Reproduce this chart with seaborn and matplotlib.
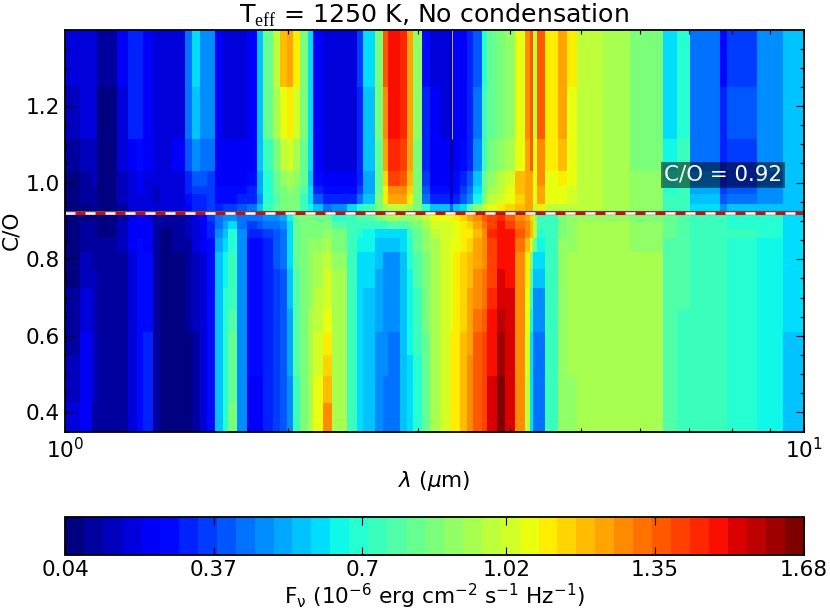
import matplotlib
matplotlib.use("Agg")
import matplotlib.pyplot as plt
import numpy as np
import pandas as pd
import seaborn as sns

plt.rcParams["mathtext.fontset"] = "custom"
plt.rcParams["mathtext.rm"] = "Liberation Serif"
plt.rcParams["mathtext.it"] = "DejaVu Sans:italic"
plt.rcParams["mathtext.bf"] = "DejaVu Sans:bold"
plt.rcParams["mathtext.default"] = "regular"

# left edge of each wavelength band (micron)
wavelength = [
    1.000, 1.048, 1.088, 1.105, 1.176, 1.217, 1.252, 1.276, 1.316, 1.345,
    1.396, 1.454, 1.486, 1.524, 1.558, 1.597, 1.637, 1.663, 1.710, 1.765,
    1.820, 1.855, 1.914, 1.956, 1.999, 2.037, 2.082, 2.135, 2.168, 2.236,
    2.301, 2.411, 2.487, 2.534, 2.631, 2.697, 2.740, 2.844, 2.907, 2.962,
    3.046, 3.123, 3.222, 3.324, 3.356, 3.430, 3.505, 3.571, 3.674, 3.732,
    3.850, 3.947, 4.072, 4.201, 4.267, 4.307, 4.361, 4.471, 4.656, 4.788,
    4.941, 5.358, 5.830, 6.460, 6.749, 7.029, 7.719, 7.889, 8.663, 9.396,
]

# flux per C/O level, 1e-6 erg cm-2 s-1 Hz-1
co_levels = [1.33, 1.17, 1.06, 1.00, 0.98, 0.96, 0.935, 0.905, 0.89, 0.87, 0.84,
             0.80, 0.75, 0.70, 0.64, 0.58, 0.52, 0.47, 0.38]

flux_133 = [
    .17, .20, .17, .09, .22, .32, .33, .25, .20, .20,
    .20, .45, .60, .50, .50, .25, .20, .20, .20, .25,
    .55, .80, 1.0, 1.2, 1.25, 1.1, .85, .60, .22, .18,
    .18, .18, .35, .60, .85, 1.35, 1.48, 1.45, 1.25, .90,
    .28, .20, .20, .10, .25, .25, .30, .38, .70, .80,
    .85, .90, 1.05, 1.3, 1.38, 1.0, 1.35, 1.12, 1.25, 1.1,
    1.0, .95, .85, .60, .68, .42, .26, .36, .48, .58,
]
flux_117 = [
    .13, .18, .17, .08, .20, .30, .31, .25, .20, .20,
    .20, .42, .55, .48, .47, .25, .20, .20, .20, .25,
    .55, .80, .95, 1.08, 1.12, 1.02, .85, .60, .22, .18,
    .18, .18, .33, .58, .85, 1.3, 1.47, 1.45, 1.25, .90,
    .30, .22, .20, .10, .25, .25, .30, .42, .72, .82,
    .88, .92, 1.05, 1.28, 1.38, 1.0, 1.35, 1.1, 1.22, 1.08,
    1.0, .95, .86, .62, .70, .45, .30, .38, .50, .58,
]
flux_106 = [
    .10, .15, .15, .08, .18, .25, .27, .22, .19, .20,
    .21, .38, .48, .45, .42, .25, .22, .22, .22, .25,
    .55, .75, .88, .98, 1.02, .95, .82, .60, .25, .20,
    .18, .20, .33, .55, .82, 1.22, 1.45, 1.42, 1.22, .85,
    .32, .25, .22, .12, .25, .28, .32, .50, .75, .85,
    .90, .95, 1.05, 1.25, 1.35, 1.05, 1.3, 1.1, 1.18, 1.08,
    1.0, .95, .88, .65, .72, .45, .30, .36, .48, .58,
]
flux_100 = [
    .06, .12, .13, .08, .15, .20, .22, .20, .17, .19,
    .20, .33, .40, .38, .37, .25, .23, .24, .25, .28,
    .52, .70, .82, .92, .95, .90, .80, .58, .27, .22,
    .22, .25, .33, .52, .80, 1.15, 1.4, 1.38, 1.18, .85,
    .35, .25, .25, .15, .27, .30, .38, .55, .80, .92,
    .98, 1.03, 1.2, 1.25, 1.25, 1.08, 1.28, 1.08, 1.12, 1.05,
    1.0, .95, .90, .70, .72, .50, .33, .35, .45, .58,
]
flux_098 = [
    .055, .11, .115, .075, .14, .19, .21, .19, .165, .185,
    .20, .30, .36, .355, .36, .265, .255, .255, .275, .30,
    .51, .69, .80, .88, .91, .87, .78, .59, .32, .26,
    .26, .29, .37, .53, .82, 1.12, 1.3, 1.3, 1.14, .85,
    .40, .27, .27, .16, .29, .34, .44, .60, .82, .95,
    1.0, 1.05, 1.18, 1.25, 1.25, 1.06, 1.25, 1.06, 1.08, 1.03,
    .99, .95, .90, .71, .72, .52, .35, .38, .47, .58,
]
flux_096 = [
    .05, .10, .10, .07, .13, .18, .20, .18, .16, .18,
    .20, .28, .33, .33, .35, .28, .28, .27, .30, .33,
    .50, .68, .78, .85, .88, .85, .75, .60, .38, .30,
    .30, .33, .42, .55, .85, 1.1, 1.22, 1.22, 1.1, .85,
    .45, .30, .30, .18, .32, .38, .50, .65, .85, .98,
    1.02, 1.08, 1.15, 1.25, 1.25, 1.05, 1.22, 1.05, 1.05, 1.02,
    .98, .95, .90, .72, .72, .55, .38, .42, .50, .58,
]
flux_0935 = [
    .05, .08, .09, .07, .12, .17, .19, .17, .17, .20,
    .20, .25, .30, .32, .35, .32, .35, .35, .38, .42,
    .55, .72, .82, .85, .85, .85, .75, .65, .55, .45,
    .50, .60, .70, .75, .85, .95, 1.0, 1.0, .95, .85,
    .70, .55, .55, .40, .55, .62, .78, .90, 1.0, 1.05,
    1.1, 1.15, 1.2, 1.25, 1.25, 1.0, 1.1, 1.0, 1.0, 1.0,
    .98, .95, .90, .75, .75, .62, .48, .55, .55, .58,
]
flux_0905 = [
    .05, .07, .08, .07, .12, .20, .22, .20, .10, .10,
    .12, .16, .20, .25, .35, .45, .48, .48, .42, .42,
    .45, .50, .50, .52, .65, .80, .85, .85, .82, .80,
    .70, .75, .78, .78, .85, .90, .95, .92, .92, .95,
    1.0, 1.05, 1.05, 1.05, 1.1, 1.15, 1.22, 1.3, 1.35, 1.4,
    1.45, 1.35, 1.28, 1.25, 1.15, .95, .75, .75, .88, .90,
    .92, .92, .88, .80, .78, .75, .72, .70, .68, .62,
]
flux_089 = [
    .055, .085, .09, .075, .13, .21, .235, .21, .10, .09,
    .11, .15, .20, .25, .32, .46, .52, .60, .46, .36,
    .38, .42, .44, .47, .62, .81, .86, .86, .85, .85,
    .78, .74, .73, .72, .74, .75, .78, .77, .82, .88,
    .96, 1.02, 1.04, 1.05, 1.08, 1.12, 1.17, 1.24, 1.32, 1.42,
    1.48, 1.42, 1.32, 1.26, 1.18, .98, .72, .74, .88, .91,
    .94, .94, .90, .80, .78, .75, .72, .71, .68, .62,
]
flux_087 = [
    .06, .10, .10, .08, .14, .22, .25, .22, .10, .08,
    .10, .14, .20, .25, .30, .48, .58, .70, .50, .30,
    .30, .34, .38, .42, .60, .82, .88, .88, .88, .90,
    .85, .72, .68, .66, .62, .60, .60, .62, .72, .82,
    .92, .98, 1.02, 1.04, 1.05, 1.1, 1.12, 1.18, 1.3, 1.45,
    1.5, 1.5, 1.35, 1.28, 1.2, 1.0, .70, .72, .88, .92,
    .95, .95, .92, .80, .78, .75, .72, .72, .68, .62,
]
flux_084 = [
    .065, .12, .11, .085, .13, .21, .26, .25, .105, .08,
    .09, .12, .17, .22, .29, .52, .62, .71, .50, .29,
    .29, .33, .38, .42, .60, .81, .88, .90, .92, .95,
    .88, .72, .65, .63, .58, .55, .55, .60, .70, .80,
    .90, .96, 1.02, 1.06, 1.08, 1.12, 1.16, 1.22, 1.3, 1.42,
    1.5, 1.5, 1.32, 1.2, 1.02, .80, .66, .72, .89, .92,
    .95, .95, .92, .79, .77, .74, .72, .71, .67, .61,
]
flux_080 = [
    .07, .14, .12, .09, .12, .20, .27, .28, .11, .08,
    .08, .10, .14, .20, .28, .55, .66, .72, .50, .28,
    .28, .32, .38, .42, .60, .80, .88, .92, .95, 1.0,
    .92, .72, .62, .60, .55, .50, .50, .58, .68, .78,
    .88, .95, 1.02, 1.08, 1.1, 1.15, 1.2, 1.25, 1.3, 1.4,
    1.5, 1.5, 1.3, 1.12, .85, .62, .62, .72, .90, .93,
    .95, .95, .93, .78, .76, .74, .72, .70, .66, .60,
]
flux_075 = [
    .08, .16, .125, .09, .115, .20, .265, .28, .11, .075,
    .07, .095, .135, .19, .28, .55, .67, .74, .50, .275,
    .275, .32, .37, .41, .57, .79, .88, .92, .96, 1.01,
    .93, .72, .61, .59, .53, .49, .49, .58, .66, .76,
    .86, .95, 1.02, 1.08, 1.1, 1.15, 1.21, 1.26, 1.31, 1.42,
    1.52, 1.51, 1.3, 1.1, .78, .55, .55, .72, .90, .93,
    .95, .95, .94, .78, .76, .73, .72, .70, .66, .60,
]
flux_070 = [
    .09, .18, .13, .09, .11, .20, .26, .28, .11, .07,
    .06, .09, .13, .18, .28, .55, .68, .75, .50, .27,
    .27, .32, .36, .40, .55, .78, .88, .92, .98, 1.02,
    .95, .72, .60, .58, .52, .48, .48, .58, .65, .75,
    .85, .95, 1.02, 1.08, 1.1, 1.15, 1.22, 1.28, 1.32, 1.45,
    1.55, 1.52, 1.3, 1.08, .72, .50, .50, .72, .90, .93,
    .95, .95, .95, .78, .76, .72, .72, .70, .66, .60,
]
flux_064 = [
    .10, .20, .135, .09, .11, .20, .265, .29, .115, .065,
    .055, .085, .125, .18, .28, .55, .68, .78, .50, .265,
    .265, .31, .355, .40, .53, .77, .88, .93, 1.0, 1.06,
    .95, .72, .60, .57, .51, .475, .47, .58, .64, .73,
    .84, .95, 1.02, 1.09, 1.11, 1.16, 1.23, 1.32, 1.36, 1.48,
    1.58, 1.53, 1.3, 1.05, .66, .47, .47, .72, .90, .93,
    .95, .95, .95, .77, .75, .72, .72, .69, .66, .59,
]
flux_058 = [
    .12, .22, .14, .09, .11, .20, .27, .30, .12, .06,
    .05, .08, .12, .18, .28, .55, .68, .80, .50, .26,
    .26, .30, .35, .40, .52, .76, .88, .95, 1.02, 1.1,
    .95, .72, .60, .56, .50, .47, .46, .58, .63, .72,
    .83, .95, 1.02, 1.1, 1.12, 1.18, 1.25, 1.35, 1.4, 1.5,
    1.6, 1.55, 1.3, 1.02, .62, .45, .44, .72, .90, .93,
    .95, .95, .95, .76, .75, .72, .72, .68, .66, .58,
]
flux_052 = [
    .14, .23, .14, .095, .11, .20, .275, .30, .12, .06,
    .05, .08, .12, .18, .28, .55, .68, .81, .50, .255,
    .255, .30, .35, .39, .51, .755, .88, .95, 1.03, 1.14,
    .95, .72, .60, .555, .50, .465, .455, .58, .625, .71,
    .825, .95, 1.02, 1.1, 1.12, 1.19, 1.26, 1.36, 1.41, 1.51,
    1.63, 1.55, 1.3, 1.01, .61, .445, .43, .72, .90, .925,
    .95, .95, .95, .76, .75, .72, .72, .68, .66, .58,
]
flux_047 = [
    .16, .24, .14, .10, .11, .20, .28, .30, .12, .06,
    .05, .08, .12, .18, .28, .55, .68, .82, .50, .25,
    .25, .30, .35, .38, .50, .75, .88, .95, 1.05, 1.18,
    .95, .72, .60, .55, .50, .46, .45, .58, .62, .70,
    .82, .95, 1.02, 1.1, 1.12, 1.2, 1.28, 1.38, 1.42, 1.52,
    1.66, 1.55, 1.3, 1.0, .60, .44, .42, .72, .90, .92,
    .95, .95, .95, .76, .75, .72, .72, .68, .66, .58,
]
flux_038 = [
    .18, .25, .12, .10, .12, .20, .28, .30, .12, .07,
    .05, .08, .12, .18, .28, .55, .68, .85, .50, .25,
    .25, .30, .35, .38, .50, .75, .88, .95, 1.05, 1.28,
    .95, .72, .60, .55, .48, .45, .45, .58, .62, .70,
    .82, .95, 1.02, 1.1, 1.12, 1.2, 1.3, 1.38, 1.42, 1.55,
    1.68, 1.55, 1.3, 1.0, .60, .45, .42, .72, .90, .92,
    .95, .95, .95, .76, .75, .72, .72, .68, .66, .58,
]
flux_rows = [flux_133, flux_117, flux_106, flux_100, flux_098, flux_096, flux_0935,
             flux_0905, flux_089, flux_087, flux_084, flux_080, flux_075, flux_070,
             flux_064, flux_058, flux_052, flux_047, flux_038]

cbar_ticks = [0.04, 0.37, 0.70, 1.02, 1.35, 1.68]
cbar_labels = ["0.04", "0.37", "0.7", "1.02", "1.35", "1.68"]
co_ticks = [0.4, 0.6, 0.8, 1.0, 1.2]
co_minor = [0.35, 0.45, 0.5, 0.55, 0.65, 0.7, 0.75, 0.85, 0.9, 0.95, 1.05, 1.1, 1.15, 1.25, 1.3, 1.35]
lam_minor = [2, 3, 4, 5, 6, 7, 8, 9]
co_transition = 0.92

CO_MIN, CO_MAX = 0.35, 1.40
NX, NY = 738, 210


def x_pos(lam):
    return np.log10(lam) * NX


def y_pos(co):
    return (CO_MAX - co) / (CO_MAX - CO_MIN) * NY


# fine regular grid for the heatmap, bands are held constant (no interpolation)
df = pd.DataFrame(flux_rows, index=co_levels, columns=np.log10(wavelength))
fine_co = CO_MAX - (np.arange(NY) + 0.5) / NY * (CO_MAX - CO_MIN)
fine_x = (np.arange(NX) + 0.5) / NX
grid = df.sort_index().reindex(index=np.sort(fine_co), method="nearest").iloc[::-1]
grid = grid.T.reindex(index=fine_x, method="ffill").T

fig = plt.figure(figsize=(8.3, 6.12), dpi=100)
W, H = 830.0, 612.0
ax = fig.add_axes([65.3 / W, 1 - 431.5 / H, 738.2 / W, 402 / H])
cax = fig.add_axes([65.3 / W, 1 - 554.5 / H, 738.2 / W, 37.5 / H])

cmap = matplotlib.colormaps["jet"].resampled(39)
sns.heatmap(grid, ax=ax, cmap=cmap, vmin=0.04, vmax=1.68, cbar_ax=cax,
            xticklabels=False, yticklabels=False,
            cbar_kws={"orientation": "horizontal", "ticks": cbar_ticks})

ax.set_xticks([x_pos(1), x_pos(10)])
ax.set_xticklabels([r"$10^{0}$", r"$10^{1}$"], fontsize=15.6)
ax.set_xticks([x_pos(v) for v in lam_minor], minor=True)
ax.set_yticks([y_pos(v) for v in co_ticks])
ax.set_yticklabels([f"{v:.1f}" for v in co_ticks], fontsize=15.6, rotation=0)
ax.set_yticks([y_pos(v) for v in co_minor], minor=True)
ax.tick_params(which="major", direction="in", top=True, right=True, length=5.5, width=0.8, pad=4)
ax.tick_params(which="minor", direction="in", top=True, right=True, length=2.8, width=0.8)
ax.set_xlabel(r"$\mathit{\lambda}$ ($\mathit{\mu}$m)", fontsize=15.6, labelpad=5)
ax.set_ylabel("C/O", fontsize=15.6, labelpad=3)
ax.set_title(r"T$_{\mathrm{eff}}$ = 1250 K, No condensation", fontsize=18.2, pad=3)
for spine in ax.spines.values():
    spine.set_visible(True)
    spine.set_linewidth(1.3)

# thin white streak in the upper part of the grid
ax.vlines(x_pos(3.34), y_pos(1.40), y_pos(1.115), color="white", lw=0.6, alpha=0.8)

yt = y_pos(co_transition)
ax.axhline(yt, color="#555555", lw=3.0)
ax.axhline(yt, color="#dd0000", lw=1.8)
ax.axhline(yt, color="white", lw=1.8, ls=(0, (4, 4)), dash_capstyle="butt")
ax.text(x_pos(6.48), y_pos(1.02), "C/O = 0.92", color="white", fontsize=15.4,
        ha="left", va="center", bbox=dict(facecolor="black", alpha=0.5, edgecolor="none", pad=2.2))

cbar = ax.collections[0].colorbar
cbar.set_ticklabels(cbar_labels)
cbar.ax.tick_params(direction="in", top=True, bottom=True, length=5.5, width=0.8, labelsize=15.6, pad=4)
cbar.ax.minorticks_off()
cbar.outline.set_visible(True)
cbar.outline.set_linewidth(1.3)
cbar.set_label(r"F$_{\nu}$ (10$^{-6}$ erg cm$^{-2}$ s$^{-1}$ Hz$^{-1}$)", fontsize=15.6, labelpad=1)

fig.savefig("out.png", dpi=100)
